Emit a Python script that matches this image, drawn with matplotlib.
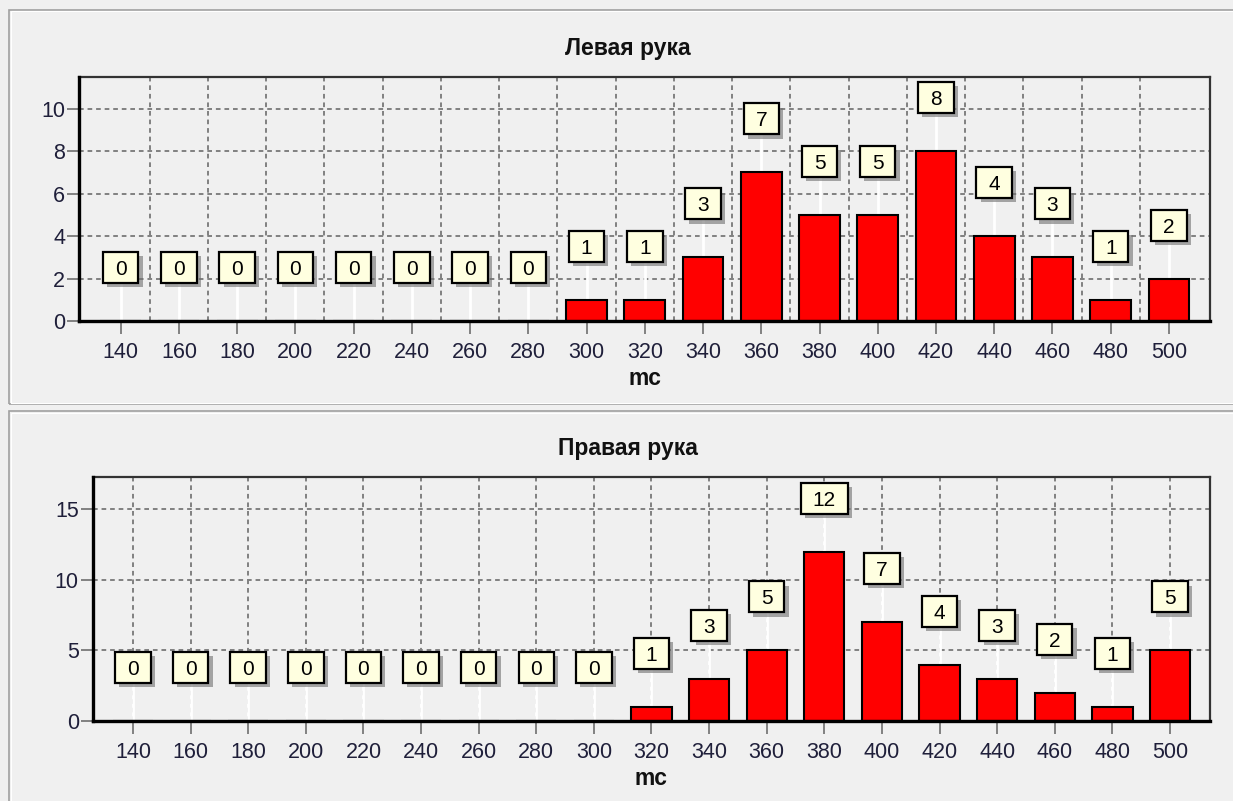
import matplotlib
matplotlib.use("Agg")
import matplotlib.pyplot as plt
import matplotlib.transforms as mtransforms
from matplotlib.patches import Rectangle
from matplotlib.lines import Line2D
import matplotlib.patheffects as pe

plt.rcParams['font.family'] = ['Liberation Sans', 'DejaVu Sans']

# ---- data ----
categories = [140, 160, 180, 200, 220, 240, 260, 280, 300, 320,
              340, 360, 380, 400, 420, 440, 460, 480, 500]
left_values = [0, 0, 0, 0, 0, 0, 0, 0, 1, 1, 3, 7, 5, 5, 8, 4, 3, 1, 2]
right_values = [0, 0, 0, 0, 0, 0, 0, 0, 0, 1, 3, 5, 12, 7, 4, 3, 2, 1, 5]
left_title = "Левая рука"
right_title = "Правая рука"
x_label = "mc"
left_yticks = [0, 2, 4, 6, 8, 10]
right_yticks = [0, 5, 10, 15]

W, H = 1233, 801
BG = '#f0f0f0'
fig = plt.figure(figsize=(W / 100, H / 100), dpi=100, facecolor=BG)


def px_rect(x0, y0, x1, y1):
    return [x0 / W, 1 - y1 / H, (x1 - x0) / W, (y1 - y0) / H]


# panel frames
for (y0, y1) in [(10, 404), (411, 820)]:
    fig.patches.append(Rectangle((9 / W, 1 - y1 / H), (1300 - 9) / W, (y1 - y0) / H,
                                 transform=fig.transFigure, facecolor='none',
                                 edgecolor='#a0a0a0', lw=1.2, zorder=0))
    fig.patches.append(Rectangle((10.5 / W, 1 - (y1 - 1.5) / H), (1300 - 9) / W, (y1 - y0 - 3) / H,
                                 transform=fig.transFigure, facecolor='none',
                                 edgecolor='white', lw=0.8, zorder=0))


def draw_panel(rect, values, title, yticks, ylim, xlim, grid_mid, title_base, xlabel_base):
    ax = fig.add_axes(rect)
    ax.set_facecolor(BG)
    ax.set_xlim(*xlim)
    ax.set_ylim(*ylim)
    ax.set_axisbelow(True)

    ax.bar(categories, values, width=14, color='#ff0000', edgecolor='black',
           linewidth=1.5, zorder=3)

    ax.set_xticks(categories)
    ax.set_xticklabels([str(c) for c in categories])
    ax.set_yticks(yticks)
    gstyle = dict(color='#808080', linewidth=1.4, linestyle=(0, (2.4, 2.0)))
    ax.yaxis.grid(True, **gstyle)
    if grid_mid:
        mids = [(a + b) / 2 for a, b in zip(categories[:-1], categories[1:])]
        ax.set_xticks(mids, minor=True)
        ax.xaxis.grid(True, which='minor', **gstyle)
        ax.tick_params(axis='x', which='minor', length=0)
    else:
        ax.xaxis.grid(True, which='major', **gstyle)

    ax.tick_params(axis='both', which='major', length=9, width=1.4, color='#808080',
                   labelsize=15.5, labelcolor='#1f1f3a')
    ax.tick_params(axis='x', pad=6)
    ax.tick_params(axis='y', pad=1)

    for s in ['left', 'bottom']:
        ax.spines[s].set_linewidth(2.4)
        ax.spines[s].set_color('black')
        ax.spines[s].set_zorder(5)
    for s in ['top', 'right']:
        ax.spines[s].set_linewidth(1.6)
        ax.spines[s].set_color('#333333')

    # value labels: leader line + box, offsets in pixels from the bar top
    for x, v in zip(categories, values):
        tr = mtransforms.ScaledTranslation(x, v, ax.transData)
        gap, bh = 38, 31
        bw = 11.5 * len(str(v)) + 24
        ax.add_line(Line2D([0, 0], [0, gap], transform=tr, color='white', lw=2.0,
                           zorder=2.9, clip_on=False))
        box = Rectangle((-bw / 2, gap), bw, bh, transform=tr, facecolor='#ffffe0',
                        edgecolor='black', lw=1.6, zorder=6, clip_on=False)
        box.set_path_effects([pe.SimplePatchShadow(offset=(3, -3), shadow_rgbFace='#707070',
                                                   alpha=0.6), pe.Normal()])
        ax.add_patch(box)
        ttr = mtransforms.offset_copy(ax.transData, fig=fig, x=0, y=(gap + bh / 2) * 72 / 100,
                                      units='points')
        ax.text(x, v, str(v), transform=ttr, ha='center', va='center_baseline',
                fontsize=15, color='black', zorder=7, clip_on=False)

    # title and axis label
    fig.text(628 / W, 1 - title_base / H, title, ha='center', va='baseline',
             fontsize=16.5, fontweight='bold', color='#111111')
    fig.text((rect[0] + rect[2] / 2), 1 - xlabel_base / H, x_label, ha='center', va='baseline',
             fontsize=16.5, fontweight='bold', color='#111111')
    return ax


draw_panel(px_rect(79, 77, 1210, 321), left_values, left_title, left_yticks,
           (0, 11.5), (125.7, 514.1), True, 55, 385)
draw_panel(px_rect(92.7, 477, 1210, 721), right_values, right_title, right_yticks,
           (0, 17.3), (126.0, 513.9), False, 455, 785)

fig.savefig('out.png', dpi=100, facecolor=BG)
